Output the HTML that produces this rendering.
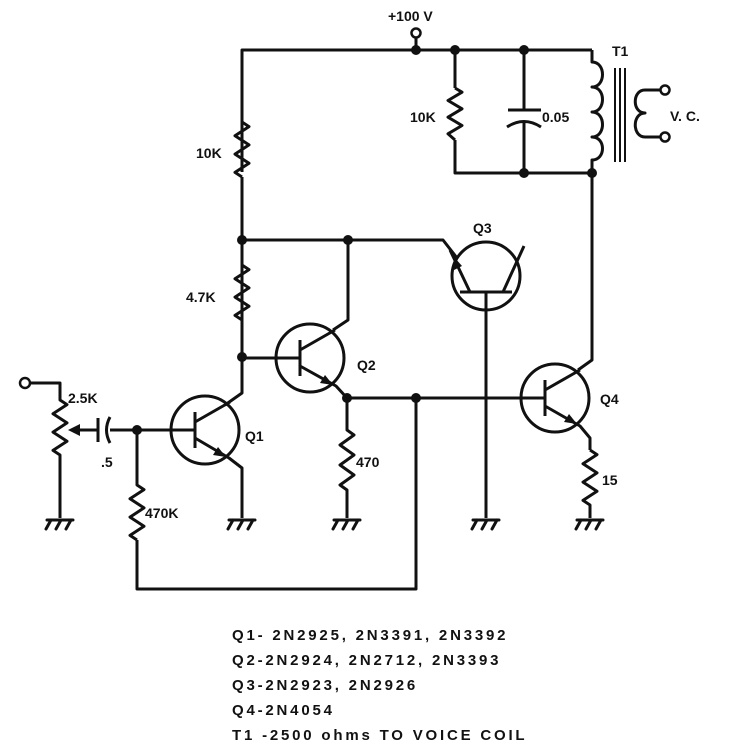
<!DOCTYPE html>
<html><head><style>
html,body{margin:0;padding:0;background:#fff;}
svg{display:block}
text{font-family:"Liberation Sans",sans-serif;font-weight:bold;fill:#111}
</style></head><body>
<svg width="743" height="751" viewBox="0 0 743 751" xmlns="http://www.w3.org/2000/svg">
<defs>
<g id="gnd" stroke="#111" stroke-width="3" fill="none" stroke-linecap="round">
<path d="M-13 0H13M-9 0l-5 9M1 0l-5 9M11 0l-5 9"/>
</g>
</defs>
<g stroke="#111" stroke-width="3" fill="none" stroke-linejoin="round">
<path d="M242 172V50H592"/>
<path d="M242 122L249 126.6L235 135.75L249 144.9L235 154.1L249 163.25L235 172.4L242 177"/>
<path d="M242 177V320"/>
<path d="M416 50V38"/>
<circle cx="416" cy="33" r="4.5" stroke-width="2.5"/>
<path d="M455 50V88"/>
<path d="M455 88L462 92.2L448 100.5L462 108.8L448 117.2L462 125.5L448 133.8L455 140"/>
<path d="M455 140V173H592"/>
<path d="M524 50V110M524 123V173"/>
<path d="M508 110H541"/>
<path d="M507 127Q524 116 541 127"/>
<path d="M592 50V62C606 62 606 87 592 87C606 87 606 112 592 112C606 112 606 137 592 137C606 137 606 160 592 160V173"/>
<path d="M615 68V162M620 68V162M625 68V162" stroke-width="2"/>
<path d="M660 90H645C632 90 632 113 645 113C632 113 632 137 645 137H660"/>
<circle cx="665" cy="90" r="4.5" stroke-width="2.5"/>
<circle cx="665" cy="137" r="4.5" stroke-width="2.5"/>
<path d="M592 173V360L578 370"/>
<path d="M242 265L249 269.6L235 278.75L249 287.9L235 297.1L249 306.25L235 315.4L242 320V393L225 405"/>
<path d="M242 240H443L457 258"/>
<path d="M348 240V320L333 330"/>
<circle cx="310" cy="358" r="34"/>
<path d="M300 340V376M242 358H300M300 350L335 330M300 366L336 386L347 398"/>
<path d="M347 398V430L354 435L340 445L354 455L340 465L354 475L340 485L347 490V518"/>
<path d="M347 398H545"/>
<path d="M416 398V589H137V540"/>
<circle cx="205" cy="430" r="34"/>
<path d="M195 412V448M137 430H195M195 422L230 402M195 438L229 458L242 468V518"/>
<path d="M137 430V485L144 489.6L130 498.75L144 507.9L130 517.1L144 526.25L130 535.4L137 540"/>
<path d="M137 430H110M80 430H98"/>
<path d="M98 418V442"/>
<path d="M110 417Q103 430 110 443"/>
<path d="M30 383H60V400L67 404.6L53 413.75L67 422.9L53 432.1L67 441.25L53 450.4L60 455V518"/>
<circle cx="25" cy="383" r="5" stroke-width="2.5"/>
<circle cx="486" cy="276" r="34"/>
<path d="M460 292H512M486 292V518M470 292L450 250M503 292L524 246"/>
<circle cx="555" cy="398" r="34"/>
<path d="M545 380V416M545 390L580 370M545 406L580 426L590 438V450"/>
<path d="M590 450L597 454.6L583 463.75L597 472.9L583 482.1L597 491.25L583 500.4L590 505V518"/>
</g>
<g fill="#111">
<path d="M226 457L213 455L218 447Z"/>
<path d="M333 385L320 383L325 375Z"/>
<path d="M577 424L564 422L569 414Z"/>
<path d="M455 258L452 271L462 266Z"/>
<path d="M68 430L80 424L80 436Z"/>
</g>
<g fill="#111">
<circle cx="416" cy="50" r="5"/><circle cx="455" cy="50" r="5"/><circle cx="524" cy="50" r="5"/>
<circle cx="524" cy="173" r="5"/><circle cx="592" cy="173" r="5"/>
<circle cx="242" cy="240" r="5"/><circle cx="348" cy="240" r="5"/>
<circle cx="242" cy="357" r="5"/><circle cx="347" cy="398" r="5"/><circle cx="416" cy="398" r="5"/>
<circle cx="137" cy="430" r="5"/>
</g>
<use href="#gnd" x="60" y="520"/>
<use href="#gnd" x="242" y="520"/>
<use href="#gnd" x="347" y="520"/>
<use href="#gnd" x="486" y="520"/>
<use href="#gnd" x="590" y="520"/>
<g font-size="14">
<text x="388" y="21">+100 V</text>
<text x="196" y="158">10K</text>
<text x="410" y="122">10K</text>
<text x="542" y="122">0.05</text>
<text x="612" y="56">T1</text>
<text x="670" y="121">V. C.</text>
<text x="473" y="233">Q3</text>
<text x="186" y="302">4.7K</text>
<text x="357" y="370">Q2</text>
<text x="600" y="404">Q4</text>
<text x="68" y="403">2.5K</text>
<text x="245" y="441">Q1</text>
<text x="101" y="467">.5</text>
<text x="145" y="518">470K</text>
<text x="356" y="467">470</text>
<text x="602" y="485">15</text>
</g>
<g font-size="15" letter-spacing="2.8">
<text x="232" y="640">Q1- 2N2925, 2N3391, 2N3392</text>
<text x="232" y="665">Q2-2N2924, 2N2712, 2N3393</text>
<text x="232" y="690">Q3-2N2923, 2N2926</text>
<text x="232" y="715">Q4-2N4054</text>
<text x="232" y="740">T1 -2500 ohms TO VOICE COIL</text>
</g>
</svg>
</body></html>
